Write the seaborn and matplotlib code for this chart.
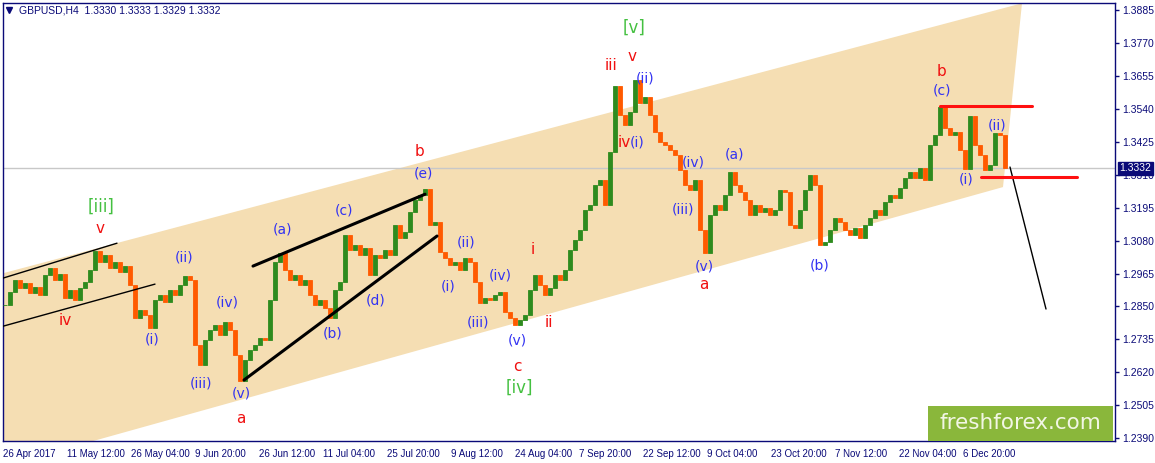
import numpy as np
import pandas as pd
import matplotlib
matplotlib.use("Agg")
import matplotlib.pyplot as plt
import matplotlib.transforms as mtransforms
from matplotlib.patches import Polygon, Rectangle
import seaborn as sns

# GBPUSD H4, one close every 5 bars
closes = [
    1.2855, 1.2900, 1.2942, 1.2914, 1.2931, 1.2897, 1.2917, 1.2890, 1.2959, 1.2984,
    1.2942, 1.2963, 1.2879, 1.2907, 1.2872, 1.2914, 1.2935, 1.2977, 1.3045, 1.3005,
    1.3029, 1.2984, 1.3005, 1.2970, 1.2991, 1.2924, 1.2809, 1.2837, 1.2820, 1.2775,
    1.2872, 1.2890, 1.2865, 1.2907, 1.2890, 1.2924, 1.2956, 1.2942, 1.2715, 1.2645,
    1.2732, 1.2767, 1.2785, 1.2750, 1.2795, 1.2767, 1.2680, 1.2590, 1.2662, 1.2697,
    1.2715, 1.2739, 1.2732, 1.2872, 1.3005, 1.3035, 1.2977, 1.2942, 1.2959, 1.2924,
    1.2942, 1.2890, 1.2855, 1.2872, 1.2844, 1.2810, 1.2907, 1.2935, 1.3100, 1.3047,
    1.3064, 1.3029, 1.3054, 1.2959, 1.3029, 1.3019, 1.3047, 1.3029, 1.3134, 1.3089,
    1.3110, 1.3179, 1.3221, 1.3239, 1.3262, 1.3134, 1.3145, 1.3040, 1.3019, 1.2994,
    1.3005, 1.2977, 1.3019, 1.3005, 1.2935, 1.2862, 1.2879, 1.2872, 1.2890, 1.2900,
    1.2830, 1.2809, 1.2785, 1.2802, 1.2820, 1.2907, 1.2959, 1.2924, 1.2890, 1.2914,
    1.2959, 1.2942, 1.2977, 1.3047, 1.3082, 1.3117, 1.3186, 1.3204, 1.3274, 1.3291,
    1.3204, 1.3389, 1.3620, 1.3518, 1.3483, 1.3529, 1.3640, 1.3560, 1.3581, 1.3518,
    1.3459, 1.3424, 1.3413, 1.3396, 1.3379, 1.3326, 1.3274, 1.3256, 1.3291, 1.3117,
    1.3035, 1.3169, 1.3204, 1.3186, 1.3239, 1.3320, 1.3274, 1.3249, 1.3221, 1.3169,
    1.3204, 1.3179, 1.3193, 1.3169, 1.3186, 1.3256, 1.3249, 1.3134, 1.3124, 1.3186,
    1.3256, 1.3310, 1.3274, 1.3064, 1.3075, 1.3117, 1.3159, 1.3145, 1.3117, 1.3099,
    1.3124, 1.3089, 1.3134, 1.3159, 1.3186, 1.3169, 1.3214, 1.3239, 1.3228, 1.3263,
    1.3298, 1.3319, 1.3298, 1.3333, 1.3291, 1.3413, 1.3448, 1.3548, 1.3473, 1.3448,
    1.3459, 1.3396, 1.3330, 1.3515, 1.3413, 1.3379, 1.3326, 1.3344, 1.3455, 1.3448,
    1.3332,
]
date_labels = ["26 Apr 2017", "11 May 12:00", "26 May 04:00", "9 Jun 20:00",
               "26 Jun 12:00", "11 Jul 04:00", "25 Jul 20:00", "9 Aug 12:00",
               "24 Aug 04:00", "7 Sep 20:00", "22 Sep 12:00", "9 Oct 04:00",
               "23 Oct 20:00", "7 Nov 12:00", "22 Nov 04:00", "6 Dec 20:00"]
price_ticks = [1.2390, 1.2505, 1.2620, 1.2735, 1.2850, 1.2965, 1.3080, 1.3195,
               1.3310, 1.3425, 1.3540, 1.3655, 1.3770, 1.3885]
last_price = 1.3332
header = "GBPUSD,H4  1.3330 1.3333 1.3329 1.3332"

# channel and drawn lines (bar, price)
channel = [(0, 1.2966), (1019, 1.3909), (1000, 1.3267), (0, 1.2292)]
black_thin = [[(0, 1.2949), (114, 1.3071)], [(0, 1.2781), (152, 1.2928)],
              [(1007, 1.3337), (1043, 1.2841)]]
black_thick = [[(250, 1.2991), (422, 1.3242)], [(241, 1.2593), (434, 1.3096)]]
red_lines = [[(937, 1.3550), (1029, 1.3550)], [(978, 1.3302), (1074, 1.3302)]]

RED, BLUE, GREEN = "#f01010", "#3232f2", "#44c040"
waves = [
    ("[iii]", 98, 1.3200, GREEN), ("v", 97, 1.3124, RED), ("iv", 62, 1.2802, RED),
    ("(i)", 149, 1.2736, BLUE), ("(ii)", 181, 1.3022, BLUE), ("(iii)", 198, 1.2582, BLUE),
    ("(iv)", 224, 1.2865, BLUE), ("(v)", 238, 1.2547, BLUE), ("a", 238, 1.2460, RED),
    ("(a)", 279, 1.3120, BLUE), ("(b)", 330, 1.2757, BLUE), ("(c)", 341, 1.3186, BLUE),
    ("(d)", 373, 1.2872, BLUE), ("(e)", 420, 1.3316, BLUE), ("b", 417, 1.3392, RED),
    ("(i)", 445, 1.2921, BLUE), ("(ii)", 463, 1.3075, BLUE), ("(iii)", 475, 1.2795, BLUE),
    ("(iv)", 497, 1.2959, BLUE), ("(v)", 514, 1.2732, BLUE), ("c", 514, 1.2641, RED),
    ("[iv]", 516, 1.2565, GREEN), ("i", 530, 1.3050, RED), ("ii", 546, 1.2795, RED),
    ("iii", 608, 1.3693, RED), ("v", 629, 1.3724, RED), ("[v]", 631, 1.3822, GREEN),
    ("(ii)", 642, 1.3647, BLUE), ("iv", 621, 1.3424, RED), ("(i)", 634, 1.3424, BLUE),
    ("(iv)", 690, 1.3354, BLUE), ("(iii)", 680, 1.3190, BLUE), ("(v)", 701, 1.2991, BLUE),
    ("a", 701, 1.2928, RED), ("(a)", 731, 1.3382, BLUE), ("(b)", 817, 1.2994, BLUE),
    ("b", 939, 1.3672, RED), ("(c)", 939, 1.3606, BLUE), ("(i)", 963, 1.3295, BLUE),
    ("(ii)", 994, 1.3483, BLUE),
]

sns.set_style("white")
plt.rcParams["font.family"] = ["DejaVu Sans"]
NAVY = "#0a0a78"

fig = plt.figure(figsize=(11.55, 4.63), dpi=100)
ax = fig.add_axes([3 / 1155, 22 / 463, 1112 / 1155, 438 / 463])
ax.set_xlim(0, 1112)
ax.set_ylim(1.2380, 1.3910)

ax.add_patch(Polygon(channel, closed=True, facecolor="#f5deb3", edgecolor="none", zorder=0))
ax.axhline(last_price, color="#c8c8c8", lw=1, zorder=1)

df = pd.DataFrame({"close": closes})
df["bar"] = 2 + 5 * np.arange(len(df))
df["open"] = df["close"].shift(1).fillna(df["close"].iloc[0])
up = df["close"] >= df["open"]
for mask, col in [(up, "#2e8b1e"), (~up, "#ff5a00")]:
    d = df[mask]
    ax.bar(d["bar"], d["close"] - d["open"], bottom=d["open"], width=3.2,
           color=col, edgecolor=col, linewidth=0.6, zorder=3)

for seg in black_thin:
    sns.lineplot(x=[p[0] for p in seg], y=[p[1] for p in seg], color="black", lw=1, ax=ax, zorder=4)
for seg in black_thick:
    sns.lineplot(x=[p[0] for p in seg], y=[p[1] for p in seg], color="black", lw=2.2, ax=ax, zorder=4)
for seg in red_lines:
    sns.lineplot(x=[p[0] for p in seg], y=[p[1] for p in seg], color="#ff1010", lw=2.2, ax=ax, zorder=4)

for txt, b, p, c in waves:
    size = 12 if c == GREEN else (11 if c == RED else 10)
    ax.text(b, p, txt, color=c, fontsize=size, ha="center", va="center", zorder=5)

# axes styling like the terminal
for s in ax.spines.values():
    s.set_color(NAVY)
    s.set_linewidth(1)
ax.yaxis.tick_right()
ax.set_yticks(price_ticks)
ax.set_yticklabels([f"{v:.4f}" for v in price_ticks], family="Liberation Sans", fontsize=7.5, color=NAVY)
ax.set_xticks(64 * np.arange(len(date_labels)))
ax.set_xticklabels(date_labels, family="Liberation Sans", fontsize=7, color=NAVY, ha="left")
ax.tick_params(axis="both", direction="out", length=3, color=NAVY, width=1, pad=2)
ax.tick_params(axis="x", pad=3)
ax.set_xlabel("")
ax.set_ylabel("")

trans = mtransforms.blended_transform_factory(ax.transAxes, ax.transData)
ax.text(1.004, last_price, f"{last_price:.4f}", transform=trans, ha="left", va="center",
        fontsize=7.5, family="Liberation Sans", color="white", zorder=10, clip_on=False,
        bbox=dict(boxstyle="square,pad=0.15", facecolor=NAVY, edgecolor=NAVY))

ax.text(0.014, 0.983, header, transform=ax.transAxes, ha="left", va="center",
        fontsize=7.5, family="Liberation Sans", color=NAVY)
ax.plot([0.005], [0.983], marker="v", color=NAVY, markersize=4, transform=ax.transAxes)

ax.add_patch(Rectangle((0.832, 0.0), 0.166, 0.080, transform=ax.transAxes,
                       facecolor="#8ab73b", edgecolor="none", zorder=8))
ax.text(0.915, 0.040, "freshforex.com", transform=ax.transAxes, ha="center", va="center",
        fontsize=15.5, color="#f2f6e4", zorder=9)

fig.savefig("out.png", dpi=100)
